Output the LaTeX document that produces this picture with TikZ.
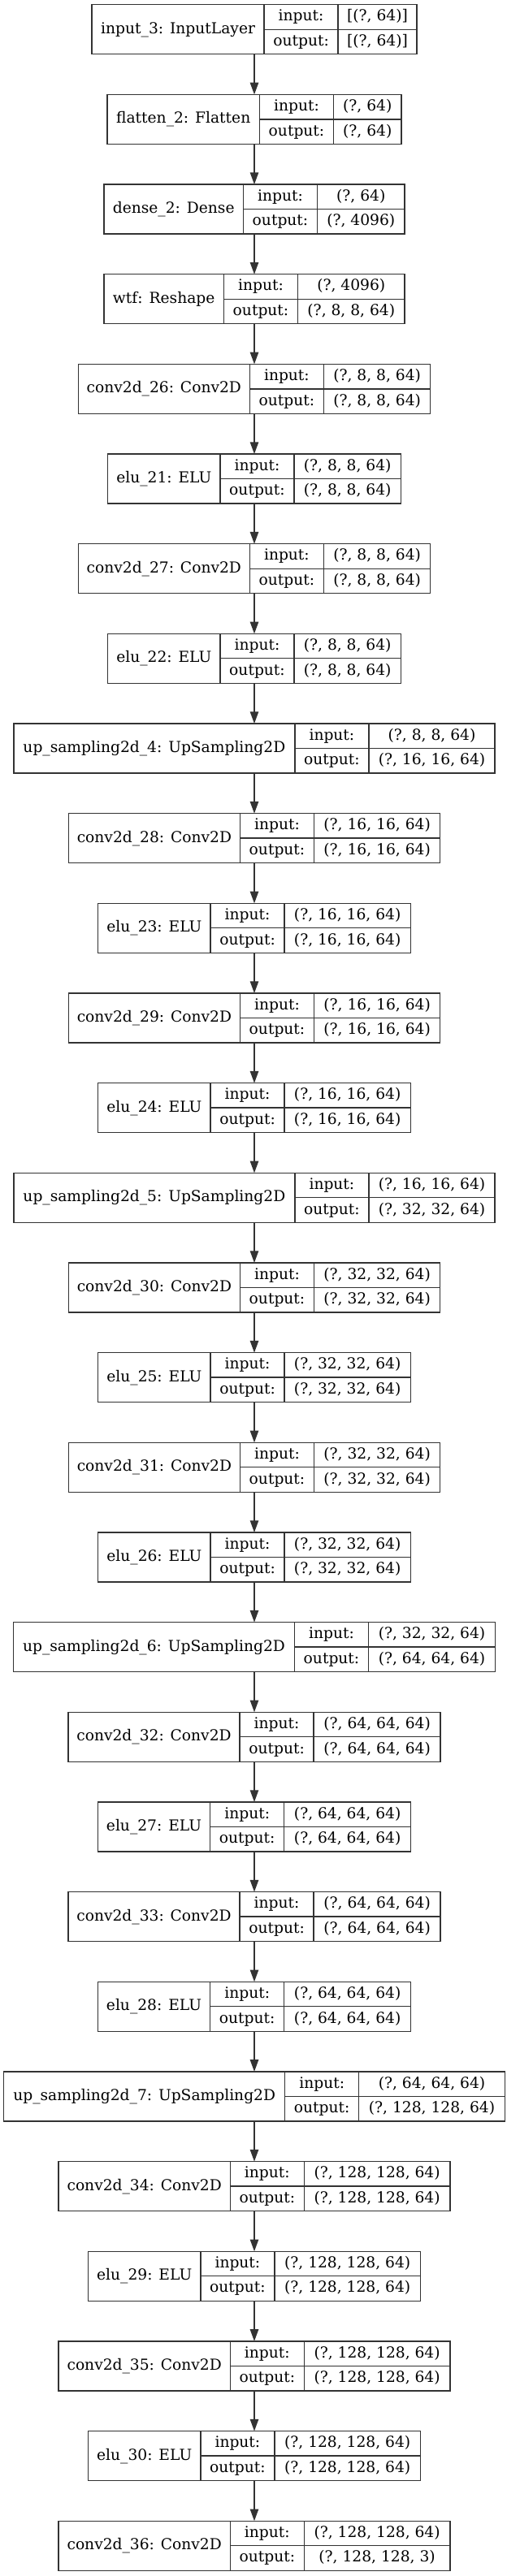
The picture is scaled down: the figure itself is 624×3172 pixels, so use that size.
\documentclass[tikz,border=0pt]{standalone}
\usepackage{fontspec}
\setmainfont{DejaVu Serif}
\usetikzlibrary{arrows.meta}
\tikzset{
  layerbox/.style={draw=black!80, line width=1pt, fill=none, inner sep=0pt, outer sep=0pt, rectangle},
  cellline/.style={draw=black!80, line width=1pt},
  txt/.style={inner sep=0pt, font=\fontsize{14pt}{16pt}\selectfont, text height=10.5pt, text depth=3pt},
  arr/.style={draw=black!80, line width=1pt, -{Triangle[length=11pt, width=7.8pt]}}
}
\newcommand\layer[7]{%
  \pgfmathsetmacro\Ltop{5.7+#2*110.66}%
  \pgfmathsetmacro\Ltot{#3+91+#4}%
  \pgfmathsetmacro\Lx{313-\Ltot/2}%
  \pgfmathsetmacro\La{\Lx+#3}%
  \pgfmathsetmacro\Lb{\La+91}%
  \pgfmathsetmacro\Lr{\Lb+#4}%
  \pgfmathsetmacro\Lm{\Ltop+30.5}%
  \pgfmathsetmacro\Lbot{\Ltop+61}%
  \pgfmathsetmacro\Lu{\Ltop+15.25}%
  \pgfmathsetmacro\Ld{\Ltop+45.75}%
  \node[layerbox, minimum width=\Ltot*0.75pt, minimum height=45.75pt, anchor=north] (#1) at (313,\Ltop) {};
  \draw[cellline] (\La,\Ltop) -- (\La,\Lbot) (\Lb,\Ltop) -- (\Lb,\Lbot) (\La,\Lm) -- (\Lr,\Lm);
  \node[txt] (#1-name) at ({(\Lx+\La)/2},\Lm) {#5};
  \node[txt] (#1-inl) at ({(\La+\Lb)/2},\Lu) {input:};
  \node[txt] (#1-outl) at ({(\La+\Lb)/2},\Ld) {output:};
  \node[txt] (#1-in) at ({(\Lb+\Lr)/2},\Lu) {#6};
  \node[txt] (#1-out) at ({(\Lb+\Lr)/2},\Ld) {#7};
}
\begin{document}
\begin{tikzpicture}[x=0.75pt,y=-0.75pt]
\fill[white] (0,0) rectangle (624,3172);
\useasboundingbox (0,0) rectangle (624,3172);
\layer{l0}{0}{212}{96.8}{input\_3: InputLayer}{[(?, 64)]}{[(?, 64)]}
\layer{l1}{1}{187.6}{83.6}{flatten\_2: Flatten}{(?, 64)}{(?, 64)}
\layer{l2}{2}{171.6}{107.6}{dense\_2: Dense}{(?, 64)}{(?, 4096)}
\layer{l3}{3}{147.6}{131.6}{wtf: Reshape}{(?, 4096)}{(?, 8, 8, 64)}
\layer{l4}{4}{211.2}{131.4}{conv2d\_26: Conv2D}{(?, 8, 8, 64)}{(?, 8, 8, 64)}
\layer{l5}{5}{138.4}{131.4}{elu\_21: ELU}{(?, 8, 8, 64)}{(?, 8, 8, 64)}
\layer{l6}{6}{211.2}{131.4}{conv2d\_27: Conv2D}{(?, 8, 8, 64)}{(?, 8, 8, 64)}
\layer{l7}{7}{138.4}{131.4}{elu\_22: ELU}{(?, 8, 8, 64)}{(?, 8, 8, 64)}
\layer{l8}{8}{346}{155.2}{up\_sampling2d\_4: UpSampling2D}{(?, 8, 8, 64)}{(?, 16, 16, 64)}
\layer{l9}{9}{211.2}{155.2}{conv2d\_28: Conv2D}{(?, 16, 16, 64)}{(?, 16, 16, 64)}
\layer{l10}{10}{138.4}{155.2}{elu\_23: ELU}{(?, 16, 16, 64)}{(?, 16, 16, 64)}
\layer{l11}{11}{211.2}{155.2}{conv2d\_29: Conv2D}{(?, 16, 16, 64)}{(?, 16, 16, 64)}
\layer{l12}{12}{138.4}{155.2}{elu\_24: ELU}{(?, 16, 16, 64)}{(?, 16, 16, 64)}
\layer{l13}{13}{346}{155.2}{up\_sampling2d\_5: UpSampling2D}{(?, 16, 16, 64)}{(?, 32, 32, 64)}
\layer{l14}{14}{211.2}{155.2}{conv2d\_30: Conv2D}{(?, 32, 32, 64)}{(?, 32, 32, 64)}
\layer{l15}{15}{138.4}{155.2}{elu\_25: ELU}{(?, 32, 32, 64)}{(?, 32, 32, 64)}
\layer{l16}{16}{211.2}{155.2}{conv2d\_31: Conv2D}{(?, 32, 32, 64)}{(?, 32, 32, 64)}
\layer{l17}{17}{138.4}{155.2}{elu\_26: ELU}{(?, 32, 32, 64)}{(?, 32, 32, 64)}
\layer{l18}{18}{346}{156}{up\_sampling2d\_6: UpSampling2D}{(?, 32, 32, 64)}{(?, 64, 64, 64)}
\layer{l19}{19}{211.2}{156}{conv2d\_32: Conv2D}{(?, 64, 64, 64)}{(?, 64, 64, 64)}
\layer{l20}{20}{138.4}{156}{elu\_27: ELU}{(?, 64, 64, 64)}{(?, 64, 64, 64)}
\layer{l21}{21}{211.2}{156}{conv2d\_33: Conv2D}{(?, 64, 64, 64)}{(?, 64, 64, 64)}
\layer{l22}{22}{138.4}{156}{elu\_28: ELU}{(?, 64, 64, 64)}{(?, 64, 64, 64)}
\layer{l23}{23}{346}{179.6}{up\_sampling2d\_7: UpSampling2D}{(?, 64, 64, 64)}{(?, 128, 128, 64)}
\layer{l24}{24}{211.2}{179.6}{conv2d\_34: Conv2D}{(?, 128, 128, 64)}{(?, 128, 128, 64)}
\layer{l25}{25}{138.4}{179.6}{elu\_29: ELU}{(?, 128, 128, 64)}{(?, 128, 128, 64)}
\layer{l26}{26}{211.2}{179.6}{conv2d\_35: Conv2D}{(?, 128, 128, 64)}{(?, 128, 128, 64)}
\layer{l27}{27}{138.4}{179.6}{elu\_30: ELU}{(?, 128, 128, 64)}{(?, 128, 128, 64)}
\layer{l28}{28}{211.2}{179.6}{conv2d\_36: Conv2D}{(?, 128, 128, 64)}{(?, 128, 128, 3)}
\foreach \i [evaluate=\i as \j using int(\i+1)] in {0,...,27} {
  \draw[arr] (l\i.south) -- (l\j.north);
}
\end{tikzpicture}
\end{document}
